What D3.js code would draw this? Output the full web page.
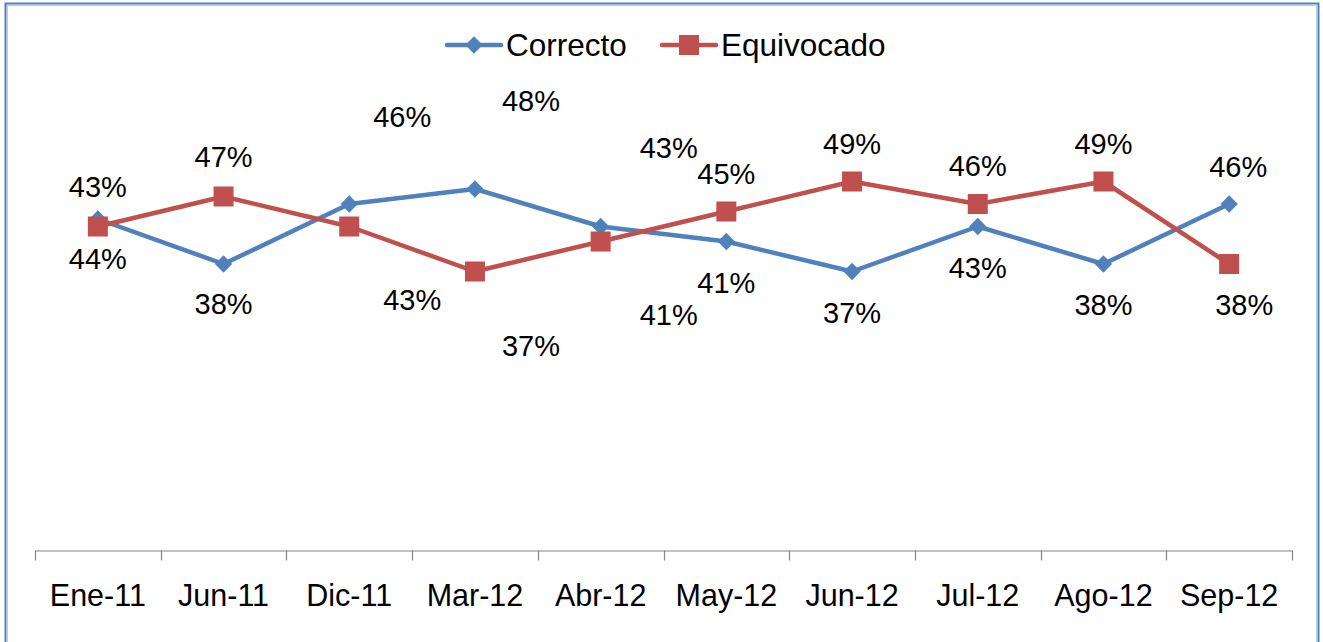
<!DOCTYPE html>
<html>
<head>
<meta charset="utf-8">
<script src="https://cdn.jsdelivr.net/npm/d3@7"></script>
<style>
  body { margin: 0; background: #fff; }
  svg { display: block; font-family: Arial, "Liberation Sans", sans-serif; }
</style>
</head>
<body>
<script>
// categories and values
const months = ['Ene-11', 'Jun-11', 'Dic-11', 'Mar-12', 'Abr-12', 'May-12', 'Jun-12', 'Jul-12', 'Ago-12', 'Sep-12'];
const correcto = [44, 38, 46, 48, 43, 41, 37, 43, 38, 46];
const equivocado = [43, 47, 43, 37, 41, 45, 49, 46, 49, 38];

// where each data label sits relative to its point (dx, dy)
const correctoLabelPos = [[0, 40], [0, 40], [53, -87], [56, -88], [68, -79], [0, 41], [0, 41], [0, 41], [0, 41], [9, -37]];
const equivocadoLabelPos = [[0, -40], [0, -40], [63, 73], [56, 74], [68, 73], [0, -38], [0, -38], [0, -38], [0, -38], [15, 41]];

const w = 1323;
const h = 642;
const blue = '#4f81bd';
const red = '#c0504d';

const svg = d3.select('body')
    .append('svg')
    .attr('width', w)
    .attr('height', h);

// chart border
svg.append('rect')
    .attr('x', 5.5).attr('y', 3.5)
    .attr('width', 1313).attr('height', 680)
    .attr('fill', 'none')
    .attr('stroke', blue)
    .attr('stroke-width', 2);
svg.append('rect')
    .attr('x', 7.5).attr('y', 5.5)
    .attr('width', 1309).attr('height', 680)
    .attr('fill', 'none')
    .attr('stroke', '#b9cde5')
    .attr('stroke-width', 1);

// scales
const xScale = d3.scaleBand()
    .domain(months)
    .range([35, 1292])
    .padding(0);
const cx = d => xScale(d) + xScale.bandwidth() / 2;

const yScale = d3.scaleLinear()
    .domain([0, 70])
    .range([549, 24]);

// x axis
const axisY = 550.5;
const xAxis = d3.axisBottom(xScale).tickSize(0).tickPadding(34);
const xAxisG = svg.append('g')
    .attr('transform', `translate(0, ${axisY})`)
    .call(xAxis);
xAxisG.select('.domain').attr('stroke', '#868686').attr('stroke-width', 1.2);
xAxisG.selectAll('text')
    .attr('font-size', 30.5)
    .attr('fill', '#000')
    .attr('font-family', 'Arial, "Liberation Sans", sans-serif');

// tick marks on the band edges
const edges = months.map(m => xScale(m)).concat([xScale.range()[1]]);
svg.append('g')
    .selectAll('line')
    .data(edges)
    .enter()
    .append('line')
    .attr('x1', d => Math.round(d) + 0.5)
    .attr('x2', d => Math.round(d) + 0.5)
    .attr('y1', axisY)
    .attr('y2', axisY + 10)
    .attr('stroke', '#868686')
    .attr('stroke-width', 1.2);

const line = d3.line()
    .x((d, i) => cx(months[i]))
    .y(d => yScale(d));

const diamond = d3.symbol().type(d3.symbolDiamond2).size(190);

function drawSeries(values, color, marker) {
    const g = svg.append('g');
    g.append('path')
        .datum(values)
        .attr('d', line)
        .attr('fill', 'none')
        .attr('stroke', color)
        .attr('stroke-width', 4.5)
        .attr('stroke-linejoin', 'round');
    if (marker === 'diamond') {
        g.selectAll('path.mark')
            .data(values)
            .enter()
            .append('path')
            .attr('class', 'mark')
            .attr('d', diamond)
            .attr('transform', (d, i) => `translate(${cx(months[i])},${yScale(d)})`)
            .attr('fill', color);
    } else {
        g.selectAll('rect.mark')
            .data(values)
            .enter()
            .append('rect')
            .attr('class', 'mark')
            .attr('x', (d, i) => cx(months[i]) - 10)
            .attr('y', d => yScale(d) - 10)
            .attr('width', 20)
            .attr('height', 20)
            .attr('fill', color);
    }
}

function drawLabels(values, offsets) {
    svg.append('g')
        .selectAll('text')
        .data(values)
        .enter()
        .append('text')
        .attr('x', (d, i) => cx(months[i]) + offsets[i][0])
        .attr('y', (d, i) => yScale(d) + offsets[i][1])
        .attr('text-anchor', 'middle')
        .attr('dominant-baseline', 'central')
        .attr('font-size', 29)
        .attr('fill', '#000')
        .text(d => d + '%');
}

drawSeries(correcto, blue, 'diamond');
drawSeries(equivocado, red, 'square');
drawLabels(correcto, correctoLabelPos);
drawLabels(equivocado, equivocadoLabelPos);

// legend
const legend = svg.append('g').attr('transform', 'translate(0, 45)');
const legendItems = [
    { name: 'Correcto', color: blue, marker: 'diamond', x: 447 },
    { name: 'Equivocado', color: red, marker: 'square', x: 662 }
];
legendItems.forEach(item => {
    legend.append('line')
        .attr('x1', item.x).attr('x2', item.x + 54)
        .attr('y1', 0).attr('y2', 0)
        .attr('stroke', item.color)
        .attr('stroke-width', 4.5)
        .attr('stroke-linecap', 'round');
    if (item.marker === 'diamond') {
        legend.append('path')
            .attr('d', diamond)
            .attr('transform', `translate(${item.x + 27},0)`)
            .attr('fill', item.color);
    } else {
        legend.append('rect')
            .attr('x', item.x + 17).attr('y', -10)
            .attr('width', 20).attr('height', 20)
            .attr('fill', item.color);
    }
    legend.append('text')
        .attr('x', item.x + 59)
        .attr('y', 0)
        .attr('dominant-baseline', 'central')
        .attr('font-size', 31.5)
        .attr('fill', '#000')
        .text(item.name);
});
</script>
</body>
</html>
